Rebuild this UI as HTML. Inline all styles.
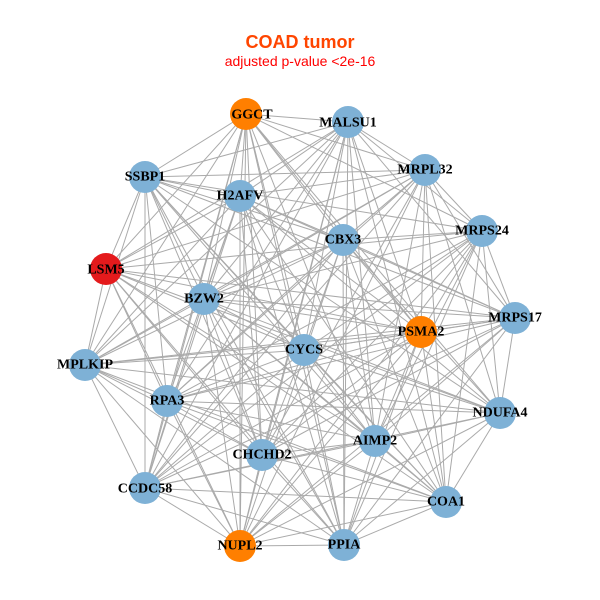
<!DOCTYPE html>
<html><head><meta charset="utf-8"><style>
body{margin:0;background:#fff}
svg{display:block}
text.l{font-family:"Liberation Serif",serif;font-weight:bold;font-size:14px;fill:#000;text-anchor:middle;dominant-baseline:central}
</style></head><body>
<svg id="s" width="600" height="600" viewBox="0 0 600 600">
<rect width="600" height="600" fill="#fff"/>
<text x="300" y="48" text-anchor="middle" font-family="Liberation Sans,sans-serif" font-weight="bold" font-size="18" fill="#FF4500">COAD tumor</text>
<text x="300" y="66" text-anchor="middle" font-family="Liberation Sans,sans-serif" font-size="14" fill="#FF0000">adjusted p-value &lt;2e-16</text>
<g id="e" stroke="#aaaaaa" stroke-width="1"></g>
<g id="n"></g>
<g id="t">
<text class="l" x="252" y="115">GGCT</text>
<text class="l" x="348" y="123">MALSU1</text>
<text class="l" x="145" y="177">SSBP1</text>
<text class="l" x="240" y="196">H2AFV</text>
<text class="l" x="425" y="170">MRPL32</text>
<text class="l" x="343" y="240">CBX3</text>
<text class="l" x="482" y="231">MRPS24</text>
<text class="l" x="106" y="270">LSM5</text>
<text class="l" x="204" y="299">BZW2</text>
<text class="l" x="515" y="318">MRPS17</text>
<text class="l" x="421" y="332">PSMA2</text>
<text class="l" x="304" y="350">CYCS</text>
<text class="l" x="85" y="365">MPLKIP</text>
<text class="l" x="167" y="401">RPA3</text>
<text class="l" x="500" y="413">NDUFA4</text>
<text class="l" x="375" y="441">AIMP2</text>
<text class="l" x="262" y="455">CHCHD2</text>
<text class="l" x="145" y="489">CCDC58</text>
<text class="l" x="446" y="502">COA1</text>
<text class="l" x="240" y="546">NUPL2</text>
<text class="l" x="344" y="545">PPIA</text>
</g>
</svg>
<script>
var N=[[246,114,'#FF7F00'],[348,122],[145,177],[240,196],[425,170],[343,240],[482,231],[106,269,'#E41A1C'],[204,299],[515,318],[421,332,'#FF7F00'],[304,350],[85,365],[167,401],[500,413],[375,441],[262,455],[145,488],[446,502],[240,546,'#FF7F00'],[344,545]];
var ns='http://www.w3.org/2000/svg',e=document.getElementById('e'),g=document.getElementById('n');
for(var i=0;i<N.length;i++)for(var j=i+1;j<N.length;j++){
 if(((i*7+j*13)%9)==0)continue;
 var l=document.createElementNS(ns,'line');
 l.setAttribute('x1',N[i][0]);l.setAttribute('y1',N[i][1]);l.setAttribute('x2',N[j][0]);l.setAttribute('y2',N[j][1]);e.appendChild(l);}
N.forEach(function(p){var c=document.createElementNS(ns,'circle');c.setAttribute('cx',p[0]);c.setAttribute('cy',p[1]);c.setAttribute('r',16);c.setAttribute('fill',p[2]||'#7EB1D6');g.appendChild(c);});
</script>
</body></html>
